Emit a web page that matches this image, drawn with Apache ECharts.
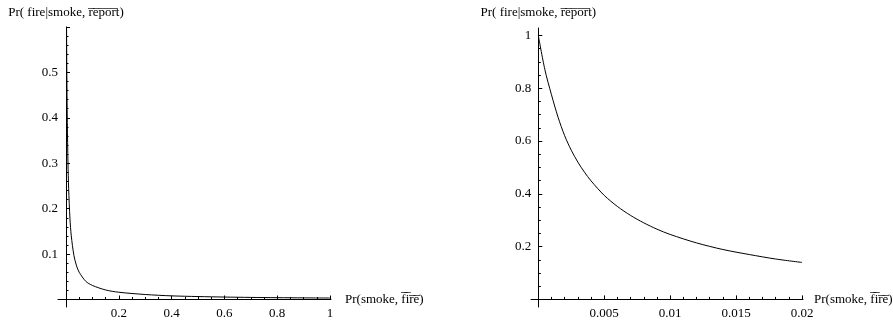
<!DOCTYPE html>
<html>
<head>
<meta charset="utf-8">
<script src="https://cdn.jsdelivr.net/npm/echarts@6/dist/echarts.min.js"></script>
<style>
  html, body { margin: 0; padding: 0; background: #fff; }
  #chart { width: 893px; height: 322px; }
</style>
</head>
<body>
<div id="chart"></div>
<script>
// left plot: Pr(smoke, not fire) from 0 to 1
const leftX = [0.001, 0.0015, 0.002, 0.003, 0.005, 0.0075, 0.01, 0.015, 0.02, 0.03, 0.04, 0.05, 0.075, 0.1, 0.15, 0.2, 0.3, 0.4, 0.5, 0.6, 0.7, 0.8, 0.9, 1.0]
const leftY = [0.76, 0.68, 0.61, 0.51, 0.39, 0.3, 0.245, 0.178, 0.14, 0.097, 0.074, 0.06, 0.04, 0.031, 0.021, 0.016, 0.011, 0.008, 0.0065, 0.0054, 0.0046, 0.004, 0.0036, 0.0032]

// right plot: zoom on 0 .. 0.02
const rightX = [0, 0.0005, 0.001, 0.0015, 0.002, 0.0025, 0.003, 0.0035, 0.004, 0.005, 0.006, 0.007, 0.008, 0.009, 0.01, 0.012, 0.014, 0.016, 0.018, 0.02]
const rightY = [1.0, 0.87, 0.775, 0.69, 0.62, 0.565, 0.52, 0.482, 0.449, 0.394, 0.352, 0.318, 0.29, 0.266, 0.246, 0.214, 0.189, 0.17, 0.153, 0.14]

const yName = 'Pr( fire|smoke, r\u0305e\u0305p\u0305o\u0305r\u0305t)'
const xName = 'Pr(smoke, f\u0305i\u0305r\u0305e\u0305)'

const font = "'Liberation Serif', 'Times New Roman', serif"
const txt = { fontFamily: font, fontSize: 13, color: '#000' }

function pairs(xs, ys) {
  return xs.map((x, i) => [x, ys[i]])
}

// axis with ticks + labels only, the lines come from the helper grids
function tickAxis(gridIndex, max, interval, split, extra) {
  return Object.assign({
    type: 'value',
    gridIndex: gridIndex,
    min: 0,
    max: max,
    interval: interval,
    axisLine: { show: false },
    axisTick: { show: true, inside: true, length: 4, lineStyle: { color: '#000', width: 1 } },
    minorTick: { show: true, splitNumber: split, length: 2.5, lineStyle: { color: '#000', width: 1 } },
    splitLine: { show: false },
    axisLabel: Object.assign({ margin: 8, showMinLabel: false }, txt),
    nameTextStyle: txt
  }, extra || {})
}

// bare axis line, a few px longer than the plot so the axes cross
function lineAxis(gridIndex, showIt) {
  return {
    type: 'value',
    gridIndex: gridIndex,
    show: showIt,
    min: 0,
    max: 1,
    axisLine: { show: true, onZero: false, lineStyle: { color: '#000', width: 1 } },
    axisTick: { show: false },
    axisLabel: { show: false },
    splitLine: { show: false }
  }
}

function curve(axisIndex, xs, ys) {
  return {
    type: 'line',
    xAxisIndex: axisIndex,
    yAxisIndex: axisIndex,
    data: pairs(xs, ys),
    showSymbol: false,
    smooth: 0.3,
    clip: true,
    lineStyle: { color: '#000', width: 1 }
  }
}

function grid(left, right, top, bottom) {
  return { left: left, right: right, top: top, bottom: bottom, outerBoundsMode: 'none' }
}

let chart = echarts.init(document.getElementById('chart'))
chart.setOption({
  animation: false,
  backgroundColor: '#fff',
  grid: [
    // left plot
    grid(66, 563, 27, 22.5),
    grid(58, 562, 27, 22.5),
    grid(66, 563, 28, 15),
    // right plot
    grid(538.3, 91, 35.4, 22.6),
    grid(531, 90, 35.4, 22.6),
    grid(538.3, 91, 28, 15)
  ],
  xAxis: [
    tickAxis(0, 1, 0.2, 4, { name: xName, nameLocation: 'end', nameGap: 15 }),
    lineAxis(1, true),
    lineAxis(2, false),
    tickAxis(3, 0.02, 0.005, 5, { name: xName, nameLocation: 'end', nameGap: 12 }),
    lineAxis(4, true),
    lineAxis(5, false)
  ],
  yAxis: [
    tickAxis(0, 0.6, 0.1, 5, { name: yName, nameLocation: 'end', nameGap: 8, axisLabel: Object.assign({ margin: 8, showMinLabel: false, showMaxLabel: false }, txt) }),
    lineAxis(1, false),
    lineAxis(2, true),
    tickAxis(3, 1, 0.2, 4, { name: yName, nameLocation: 'end', nameGap: 16, axisLabel: Object.assign({ margin: 7, showMinLabel: false }, txt) }),
    lineAxis(4, false),
    lineAxis(5, true)
  ],
  series: [
    curve(0, leftX, leftY),
    curve(3, rightX, rightY)
  ]
})
</script>
</body>
</html>
